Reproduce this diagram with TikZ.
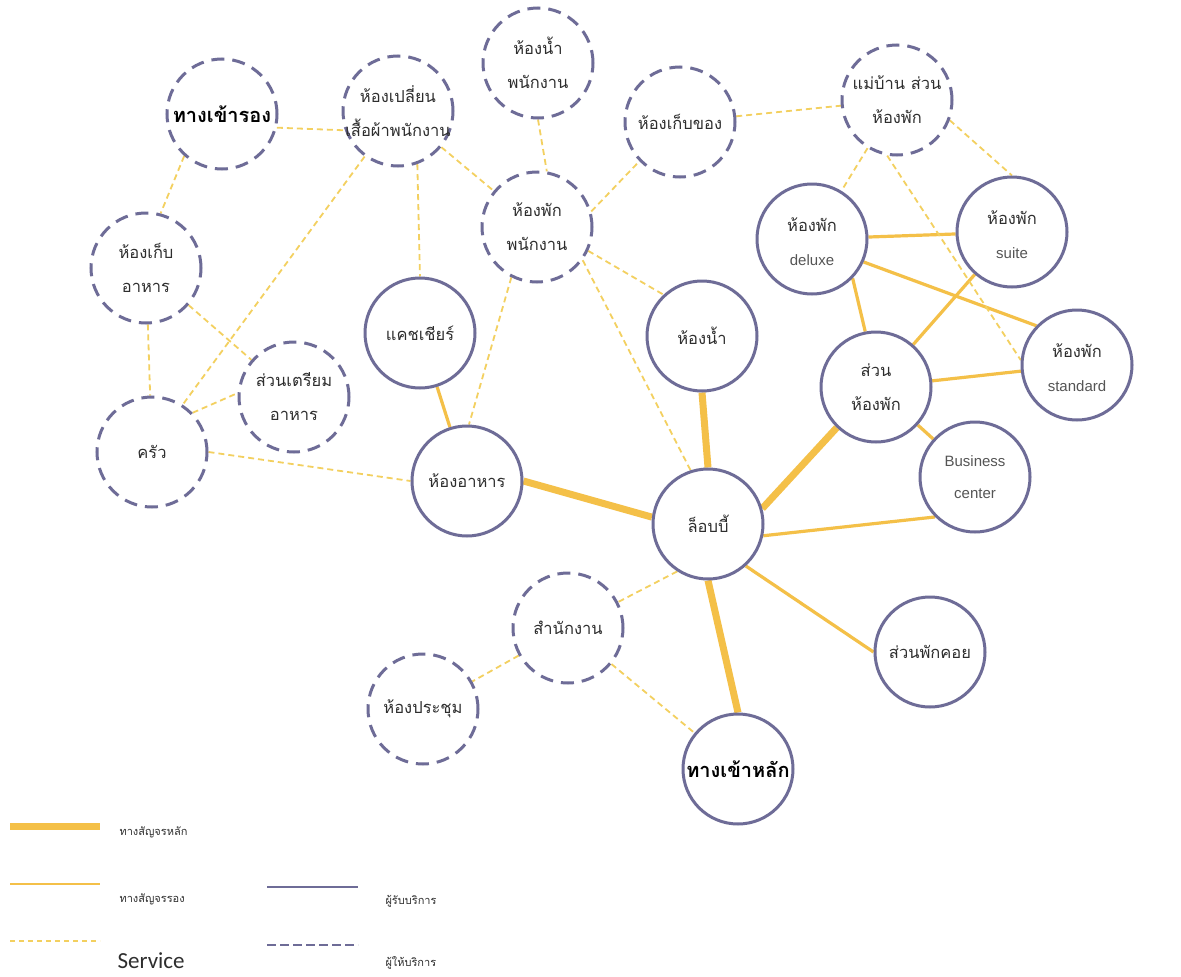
\documentclass[tikz,border=0pt]{standalone}
\usepackage{fontspec}
\newfontfamily\thaifont[Script=Thai]{Loma}
\newfontfamily\latinfont{Liberation Sans}
\newfontfamily\carlitofont{Carlito}
\usetikzlibrary{backgrounds}
\definecolor{circ}{HTML}{6E6C97}
\definecolor{gold}{HTML}{F4C048}
\definecolor{ylw}{HTML}{F3D060}
\definecolor{txt}{HTML}{2E2E2E}
\definecolor{latxt}{HTML}{555555}
\newcommand{\lw}[1]{{\latinfont\fontsize{15}{17}\selectfont\color{latxt}#1}}
\begin{document}
\begin{tikzpicture}[x=1pt,y=-1pt,
  recv/.style={circle, draw=circ, line width=3pt, minimum size=110pt, inner sep=0pt},
  prov/.style={recv, dash pattern=on 13pt off 8pt},
  lab/.style={font=\thaifont\fontsize{16.5}{34}\selectfont, align=center, text=txt},
  blab/.style={font=\thaifont\bfseries\fontsize{20}{24}\selectfont, align=center, text=black},
  mainpath/.style={draw=gold, line width=7pt},
  secpath/.style={draw=gold, line width=3.2pt},
  svcpath/.style={draw=ylw, line width=1.8pt, dash pattern=on 6pt off 4pt},
  leglab/.style={font=\thaifont\fontsize{11}{13}\selectfont, text=txt, anchor=west}
]
\useasboundingbox (0,0) rectangle (1181,977);

% nodes
\node[prov, label={[blab]center:ทางเข้ารอง}] (entry2) at (222,114) {};
\node[prov, label={[lab]center:{ห้องเปลี่ยน\\เสื้อผ้าพนักงาน}}] (changing) at (398,111) {};
\node[prov, label={[lab]center:{ห้องน้ำ\\พนักงาน}}] (staffWC) at (538,63) {};
\node[prov, label={[lab]center:ห้องเก็บของ}] (storage) at (680,122) {};
\node[prov, label={[lab]center:{แม่บ้าน ส่วน\\ห้องพัก}}] (housekeep) at (897,100) {};
\node[prov, label={[lab]center:{ห้องพัก\\พนักงาน}}] (staffRoom) at (537,227) {};
\node[prov, label={[lab]center:{ห้องเก็บ\\อาหาร}}] (foodStore) at (146,268) {};
\node[prov, label={[lab]center:{ส่วนเตรียม\\อาหาร}}] (prep) at (294,397) {};
\node[prov, label={[lab]center:ครัว}] (kitchen) at (152,452) {};
\node[recv, label={[lab]center:แคชเชียร์}] (cashier) at (420,333) {};
\node[recv, label={[lab]center:ห้องอาหาร}] (dining) at (467,481) {};
\node[recv, label={[lab]center:ห้องน้ำ}] (WC) at (702,336) {};
\node[recv, label={[lab]center:ล็อบบี้}] (lobby) at (708,524) {};
\node[recv, label={[lab,yshift=-3pt]center:{ห้องพัก\\\lw{deluxe}}}] (deluxe) at (812,239) {};
\node[recv, label={[lab,yshift=-3pt]center:{ห้องพัก\\\lw{suite}}}] (suite) at (1012,232) {};
\node[recv, label={[lab,yshift=-3pt]center:{ห้องพัก\\\lw{standard}}}] (standard) at (1077,365) {};
\node[recv, label={[lab]center:{ส่วน\\ห้องพัก}}] (roomZone) at (876,387) {};
\node[recv, label={[lab,font=\latinfont\fontsize{15}{32}\selectfont,text=latxt]center:{Business\\center}}] (business) at (975,477) {};
\node[recv, label={[lab]center:ส่วนพักคอย}] (waiting) at (930,652) {};
\node[prov, label={[lab]center:สำนักงาน}] (office) at (568,628) {};
\node[prov, label={[lab]center:ห้องประชุม}] (meeting) at (423,709) {};
\node[recv, label={[blab]center:ทางเข้าหลัก}] (mainEntry) at (738,769) {};

\begin{scope}[on background layer]
\fill[white] (0,0) rectangle (1181,977);
% main traffic
\draw[mainpath] (dining.east) -- (lobby.173);
\draw[mainpath] (WC.south) -- (lobby.north);
\draw[mainpath] (lobby.16) -- (roomZone.-134);
\draw[mainpath] (lobby.south) -- (mainEntry.north);
% secondary
\draw[secpath] (cashier) -- (dining);
\draw[secpath] (lobby.-12) -- (business.-135);
\draw[secpath] (lobby.-48) -- (waiting.180);
\draw[secpath] (roomZone.101) -- (deluxe.-44);
\draw[secpath] (roomZone) -- (suite);
\draw[secpath] (roomZone) -- (standard);
\draw[secpath] (roomZone) -- (business);
\draw[secpath] (deluxe) -- (suite);
\draw[secpath] (deluxe.-24) -- (standard.136);
% service
\draw[svcpath] (entry2.-14) -- (changing.200);
\draw[svcpath] (entry2.-132) -- (foodStore.75);
\draw[svcpath] (changing) -- (staffRoom);
\draw[svcpath] (changing.-70) -- (cashier.north);
\draw[svcpath] (changing) -- (kitchen.57);
\draw[svcpath] (foodStore) -- (kitchen);
\draw[svcpath] (foodStore) -- (prep);
\draw[svcpath] (kitchen.44) -- (prep.176);
\draw[svcpath] (kitchen.east) -- (dining.west);
\draw[svcpath] (staffWC.south) -- (staffRoom.80);
\draw[svcpath] (staffRoom.16) -- (storage.-136);
\draw[svcpath] (staffRoom.-25) -- (WC.133);
\draw[svcpath] (staffRoom.-117) -- (dining.88);
\draw[svcpath] (staffRoom.-36) -- (lobby.108);
\draw[svcpath] (storage) -- (housekeep);
\draw[svcpath] (housekeep) -- (deluxe);
\draw[svcpath] (housekeep.-21) -- (suite.north);
\draw[svcpath] (housekeep.-100) -- (standard.175);
\draw[svcpath] (lobby.-123) -- (office);
\draw[svcpath] (office) -- (meeting);
\draw[svcpath] (office) -- (mainEntry);
\end{scope}

% legend
\coordinate (l1a) at (10,826); \coordinate (l1b) at (100,826);
\coordinate (l2a) at (10,884); \coordinate (l2b) at (100,884);
\coordinate (l3a) at (10,941); \coordinate (l3b) at (100,941);
\coordinate (l4a) at (267,887); \coordinate (l4b) at (358,887);
\coordinate (l5a) at (267,945); \coordinate (l5b) at (358,945);
\draw[mainpath] (l1a) -- (l1b);
\draw[draw=gold, line width=2.5pt] (l2a) -- (l2b);
\draw[svcpath, dash pattern=on 5pt off 4pt] (l3a) -- (l3b);
\draw[draw=circ, line width=2.5pt] (l4a) -- (l4b);
\draw[draw=circ, line width=2.5pt, dash pattern=on 9pt off 4pt] (l5a) -- (l5b);
\node[leglab] (t1) at (116,832) {ทางสัญจรหลัก};
\node[leglab] (t2) at (116,899) {ทางสัญจรรอง};
\node[leglab, font=\carlitofont\fontsize{23}{26}\selectfont] (t3) at (114,961) {Service};
\node[leglab] (t4) at (382,901) {ผู้รับบริการ};
\node[leglab] (t5) at (382,963) {ผู้ให้บริการ};
\end{tikzpicture}
\end{document}
